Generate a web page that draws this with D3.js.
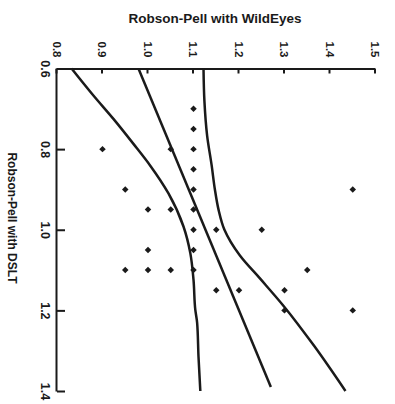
<!DOCTYPE html>
<html>
<head>
    <title>Robson-Pell scatter</title>
    <script src="https://cdnjs.cloudflare.com/ajax/libs/d3/7.8.5/d3.min.js"></script>
    <style>
        body { margin: 0; background: #fff; }
        text { font-family: "Liberation Sans", Arial, sans-serif; font-weight: bold; fill: #1a1a1a; }
        .axis path, .axis line { stroke: #1a1a1a; stroke-width: 2px; }
        .axis text { font-size: 12px; }
        .curve { fill: none; stroke: #1a1a1a; stroke-width: 2.5px; }
    </style>
</head>
<body>
<svg id="chart" width="395" height="404"></svg>
<script>
// DSLT values (x) and WildEyes values (y) of each point
const dslt     = [0.70, 0.75, 0.80, 0.80, 0.80, 0.85, 0.90, 0.90, 0.90, 0.95, 0.95, 0.95, 1.00, 1.00,
                  1.00, 1.05, 1.05, 1.10, 1.10, 1.10, 1.10, 1.10, 1.15, 1.15, 1.15, 1.20, 1.20];
const wildEyes = [1.10, 1.10, 0.90, 1.05, 1.10, 1.10, 0.95, 1.10, 1.45, 1.00, 1.05, 1.10, 1.10, 1.15,
                  1.25, 1.00, 1.10, 0.95, 1.00, 1.05, 1.10, 1.35, 1.15, 1.20, 1.30, 1.30, 1.45];

// fitted line and the two band curves
const fitX   = [0.60, 1.39];
const fitY   = [0.979, 1.270];
const lowX   = [0.60, 0.667, 0.725, 0.787, 0.841, 0.91, 0.992, 1.058, 1.124, 1.199, 1.231, 1.315, 1.40];
const lowY   = [0.832, 0.880, 0.924, 0.968, 1.005, 1.045, 1.078, 1.093, 1.100, 1.104, 1.108, 1.111, 1.115];
const highX  = [0.60, 0.681, 0.767, 0.841, 0.90, 0.95, 1.00, 1.064, 1.122, 1.189, 1.288, 1.40];
const highY  = [1.122, 1.124, 1.130, 1.140, 1.147, 1.155, 1.168, 1.202, 1.247, 1.298, 1.365, 1.434];

const dsltTicks = [0.6, 0.8, 1.0, 1.2, 1.4];
const weTicks   = [0.8, 0.9, 1.0, 1.1, 1.2, 1.3, 1.4, 1.5];

const svg = d3.select('#chart');

// the chart is drawn upright, then turned a quarter turn clockwise
const g = svg.append('g').attr('transform', 'translate(395,0) rotate(90)');

const x = d3.scaleLinear().domain([0.6, 1.4]).range([68.5, 391]);
const y = d3.scaleLinear().domain([0.8, 1.5]).range([338, 19.5]);

g.append('g')
    .attr('class', 'axis')
    .attr('transform', 'translate(0,338)')
    .call(d3.axisBottom(x).tickValues(dsltTicks).tickFormat(d3.format('.1f'))
        .tickSizeInner(-8).tickSizeOuter(0).tickPadding(7))
    .call(a => a.selectAll('text').style('font-size', '12.5px'));

g.append('g')
    .attr('class', 'axis')
    .attr('transform', 'translate(68.5,0)')
    .call(d3.axisLeft(y).tickValues(weTicks).tickFormat(d3.format('.1f'))
        .tickSizeInner(-5).tickSizeOuter(0).tickPadding(11))
    .call(a => a.selectAll('text').style('font-size', '11.5px'));

// axis title for DSLT
g.append('text')
    .attr('x', 218)
    .attr('y', 387)
    .attr('text-anchor', 'middle')
    .style('font-size', '12px')
    .text('Robson-Pell with DSLT');

// curves
const line = d3.line()
    .x(d => x(d[0]))
    .y(d => y(d[1]))
    .curve(d3.curveMonotoneX);

[[lowX, lowY], [fitX, fitY], [highX, highY]].forEach(([xs, ys]) => {
    g.append('path')
        .attr('class', 'curve')
        .attr('d', line(xs.map((v, i) => [v, ys[i]])));
});

// points
g.append('g')
    .selectAll('path')
    .data(dslt.map((v, i) => [v, wildEyes[i]]))
    .join('path')
    .attr('transform', d => `translate(${x(d[0])},${y(d[1])}) rotate(45)`)
    .attr('d', d3.symbol(d3.symbolSquare, 21))
    .attr('fill', '#1a1a1a');

// title for WildEyes, drawn upright at the top
svg.append('text')
    .attr('x', 215)
    .attr('y', 23)
    .attr('text-anchor', 'middle')
    .style('font-size', '13.5px')
    .text('Robson-Pell with WildEyes');
</script>
</body>
</html>
